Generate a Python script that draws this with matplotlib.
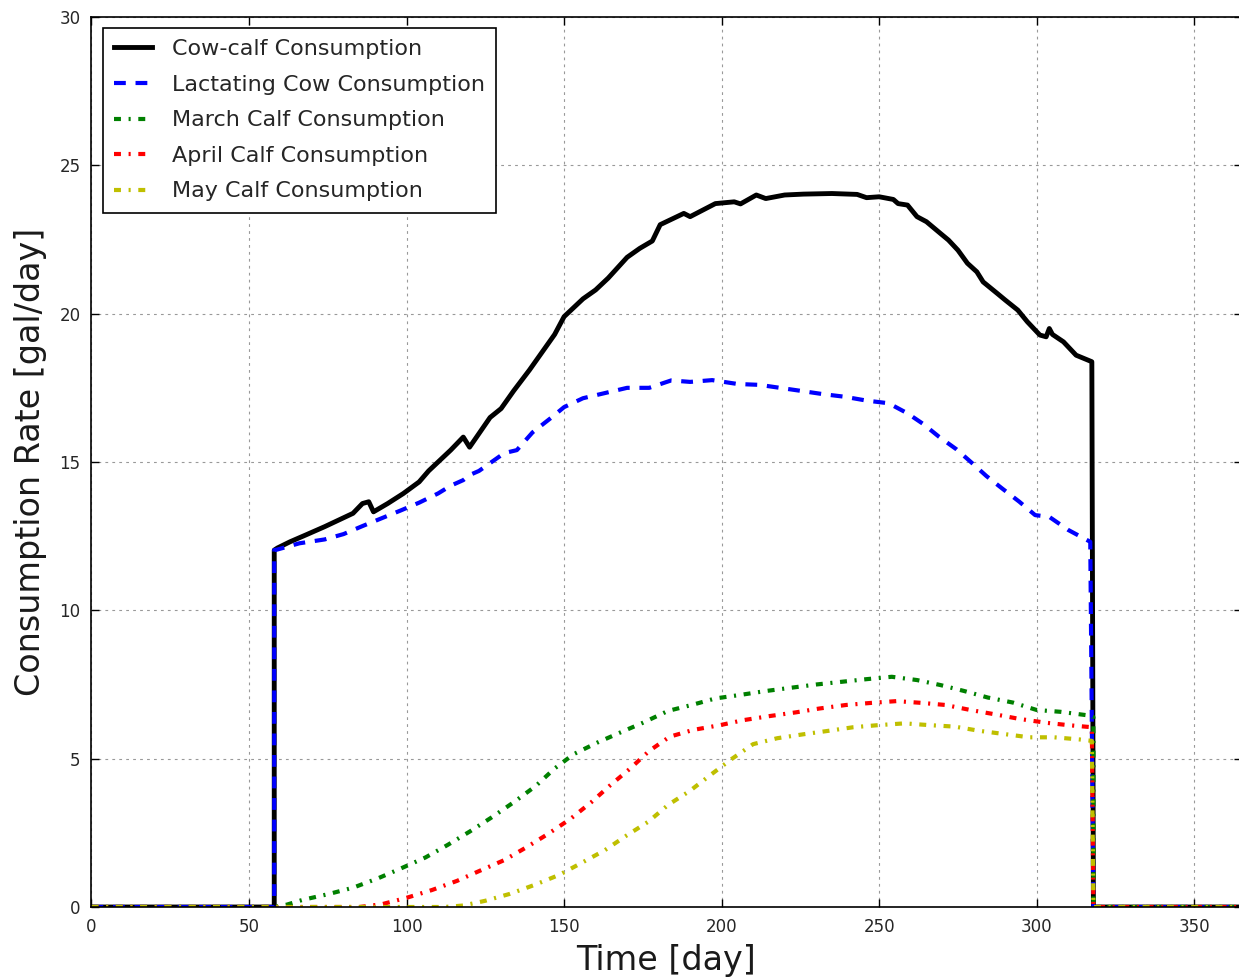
import matplotlib
matplotlib.use("Agg")
import matplotlib.pyplot as plt

# ---------------- data ----------------
cow_calf_days = [0, 58, 58, 59, 63, 68, 74, 79, 83, 86, 88, 89.5, 94, 99, 104, 107, 110, 114, 118, 120,
                 126.5, 130, 134, 139, 143, 147, 150, 156, 160, 164, 170, 174, 178, 180.5, 188, 190, 198,
                 204, 206, 211, 214, 220, 226, 235, 243, 246, 250, 254.5, 256, 259, 262, 265, 269.5, 272,
                 275, 278, 281, 283, 287.5, 290, 294, 297, 301, 303, 304, 305, 308.5, 312.5, 317.5, 318, 365]
cow_calf_vals = [0, 0, 12.03, 12.1, 12.31, 12.54, 12.82, 13.07, 13.27, 13.6, 13.66, 13.32, 13.6, 13.94, 14.33,
                 14.7, 15.0, 15.4, 15.84, 15.5, 16.5, 16.8, 17.4, 18.1, 18.7, 19.3, 19.9, 20.5, 20.8, 21.2,
                 21.9, 22.2, 22.45, 23.0, 23.38, 23.27, 23.71, 23.77, 23.7, 24.0, 23.88, 24.0, 24.03, 24.05,
                 24.02, 23.91, 23.94, 23.85, 23.71, 23.66, 23.27, 23.1, 22.7, 22.48, 22.14, 21.7, 21.41,
                 21.07, 20.68, 20.46, 20.12, 19.73, 19.28, 19.22, 19.5, 19.3, 19.05, 18.6, 18.38, 0, 0]

lact_days = [0, 58, 58, 59, 66, 74, 80, 86, 92, 98, 104, 110, 114, 118, 120, 123, 131, 135, 140, 146, 150,
             156, 164, 170, 177, 184, 190, 197, 205, 212, 218.5, 225, 232, 239, 246, 253, 259, 264, 269,
             274.5, 279, 284, 289, 294.5, 299.5, 304, 310, 317, 318, 365]
lact_vals = [0, 0, 12.03, 12.05, 12.26, 12.39, 12.57, 12.84, 13.1, 13.36, 13.63, 13.94, 14.2, 14.39, 14.56,
             14.7, 15.3, 15.4, 16.0, 16.5, 16.85, 17.15, 17.35, 17.5, 17.5, 17.75, 17.7, 17.76, 17.63, 17.6,
             17.5, 17.4, 17.29, 17.2, 17.07, 16.98, 16.64, 16.28, 15.85, 15.43, 15.01, 14.53, 14.11, 13.66,
             13.21, 13.15, 12.71, 12.31, 0, 0]

march_days = [0, 58, 62, 67, 75, 83, 91, 98, 106, 113, 120, 127, 134, 141, 147, 153, 160.5, 168, 175, 183,
              190.5, 198, 206, 214, 222, 230, 238, 246, 254, 262, 269.5, 277, 284.5, 292.5, 300, 307.5,
              315.5, 318, 318, 365]
march_vals = [0, 0, 0.08, 0.24, 0.43, 0.65, 0.97, 1.29, 1.67, 2.09, 2.54, 3.02, 3.53, 4.08, 4.67, 5.15,
              5.54, 5.89, 6.21, 6.61, 6.81, 7.03, 7.15, 7.28, 7.39, 7.5, 7.59, 7.68, 7.76, 7.65, 7.48, 7.28,
              7.06, 6.89, 6.64, 6.58, 6.47, 6.4, 0, 0]

april_days = [0, 85, 92, 100, 108, 116, 123, 131, 138, 145, 152, 158.5, 164.5, 171, 177, 183.5, 191, 199.5,
              207, 215.5, 223.5, 231, 239.5, 247.5, 255.5, 263.5, 271, 279, 287, 294.5, 303, 310, 317.5,
              318, 365]
april_vals = [0, 0, 0.09, 0.31, 0.57, 0.88, 1.21, 1.58, 2.01, 2.47, 2.97, 3.52, 4.09, 4.67, 5.26, 5.74,
              5.97, 6.13, 6.30, 6.44, 6.56, 6.69, 6.81, 6.88, 6.94, 6.88, 6.81, 6.64, 6.49, 6.34, 6.21,
              6.13, 6.06, 0, 0]

may_days = [0, 112, 118, 125, 132.7, 140.5, 148.4, 155.6, 163, 169.7, 176.8, 183, 190, 196.7, 203.2, 210,
            217.7, 225.8, 234, 241.8, 249.7, 258, 266, 274, 281.7, 289.7, 297.6, 305.5, 313.4, 317.5, 318, 365]
may_vals = [0, 0, 0.05, 0.21, 0.44, 0.74, 1.08, 1.49, 1.92, 2.40, 2.88, 3.44, 3.92, 4.47, 4.99, 5.49, 5.69,
            5.82, 5.94, 6.06, 6.13, 6.19, 6.13, 6.08, 5.94, 5.83, 5.72, 5.72, 5.65, 5.6, 0, 0]

labels = ["Cow-calf Consumption", "Lactating Cow Consumption", "March Calf Consumption",
          "April Calf Consumption", "May Calf Consumption"]
x_ticks = [0, 50, 100, 150, 200, 250, 300, 350]
y_ticks = [0, 5, 10, 15, 20, 25, 30]

# ---------------- style ----------------
plt.rcParams['font.family'] = ['DejaVu Sans']
plt.rcParams['lines.scale_dashes'] = False
plt.rcParams['xtick.direction'] = 'in'
plt.rcParams['ytick.direction'] = 'in'

W, H = 1239, 977
fig = plt.figure(figsize=(W / 100, H / 100), dpi=100)
fig.patch.set_facecolor('white')
left, right = 91.5 / W, 1241.5 / W
bottom, top = (H - 907) / H, (H - 17) / H
ax = fig.add_axes([left, bottom, right - left, top - bottom])

ax.plot(cow_calf_days, cow_calf_vals, color='k', lw=3.5, label=labels[0])
ax.plot(lact_days, lact_vals, color='b', lw=3, linestyle=(0, (8.5, 7)), label=labels[1])
dd = (0, (5, 5.5, 1.5, 5.5))
ax.plot(march_days, march_vals, color='g', lw=3, linestyle=dd, label=labels[2])
ax.plot(april_days, april_vals, color='r', lw=3, linestyle=dd, label=labels[3])
ax.plot(may_days, may_vals, color=(0.75, 0.75, 0), lw=3, linestyle=dd, label=labels[4])

ax.set_xlim(0, 365)
ax.set_ylim(0, 30)
ax.set_xticks(x_ticks)
ax.set_yticks(y_ticks)
ax.tick_params(axis='both', which='major', labelsize=12, length=5.5, width=1,
               top=True, right=True, pad=8, labelcolor='0.15')
ax.grid(True, color='0.6', linestyle=(0, (2, 3)), linewidth=0.8)
for s in ax.spines.values():
    s.set_linewidth(1.2)

ax.set_xlabel("Time [day]", fontsize=24, labelpad=6, color='0.1')
ax.set_ylabel("Consumption Rate [gal/day]", fontsize=24, labelpad=9, color='0.1')

leg = ax.legend(loc='upper left', fontsize=16, fancybox=False, framealpha=1,
                edgecolor='k', handlelength=1.7, handletextpad=0.9, labelspacing=0.7,
                borderpad=0.5, borderaxespad=0.5)
leg.get_frame().set_linewidth(1.2)
for t in leg.get_texts():
    t.set_color('0.15')

fig.savefig("out.png", dpi=100, facecolor='white')
